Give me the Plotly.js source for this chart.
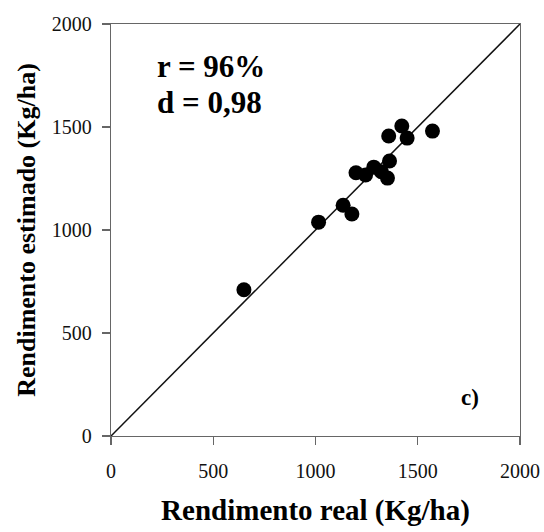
<!DOCTYPE html>
<html><head><meta charset="utf-8">
<script src="https://cdn.plot.ly/plotly-3.0.1.min.js"></script>
<style>body{margin:0;background:#fff}#c{width:544px;height:532px}</style>
</head><body><div id="c"></div>
<script>
const realYield = [650, 1015, 1135, 1178, 1198, 1245, 1285, 1322, 1352, 1358, 1362, 1422, 1448, 1572];
const estYield  = [710, 1038, 1120, 1078, 1278, 1267, 1305, 1283, 1252, 1456, 1335, 1505, 1446, 1480];
const lineRange = [0, 2000];
const tickVals = [0, 500, 1000, 1500, 2000];

const serif = "Liberation Serif, Times New Roman, serif";
const data = [
  {x: lineRange, y: lineRange, mode: 'lines', line: {color: '#111', width: 1.5}, hoverinfo: 'skip'},
  {x: realYield, y: estYield, mode: 'markers', marker: {color: '#000', size: 15, line: {width: 0}}}
];
const axisCommon = {
  range: [0, 2000], tickvals: tickVals, ticks: 'outside', ticklen: 8, tickwidth: 1.2, tickcolor: '#666',
  showline: true, linecolor: '#666', linewidth: 1.3, mirror: true, showgrid: false, zeroline: false,
  tickfont: {family: serif, size: 20, color: '#111'}
};
const layout = {
  width: 544, height: 532, showlegend: false,
  paper_bgcolor: '#fff', plot_bgcolor: '#fff',
  margin: {l: 111, r: 24, t: 24, b: 96},
  xaxis: Object.assign({}, axisCommon, {
    ticklabelstandoff: 9,
    title: {text: '<b>Rendimento real (Kg/ha)</b>', font: {family: serif, size: 29, color: '#000'}, standoff: 18}
  }),
  yaxis: Object.assign({}, axisCommon, {
    ticklabelstandoff: 6,
    title: {text: '<b>Rendimento estimado (Kg/ha)</b>', font: {family: serif, size: 26, color: '#000'}, standoff: 8}
  }),
  annotations: [
    {x: 155, y: 67, xref: 'paper', yref: 'paper', xanchor: 'left', yanchor: 'middle', showarrow: false,
     text: '<b>r = 96%</b>', font: {family: serif, size: 31, color: '#000'}},
    {x: 155, y: 102, xref: 'paper', yref: 'paper', xanchor: 'left', yanchor: 'middle', showarrow: false,
     text: '<b>d = 0,98</b>', font: {family: serif, size: 31, color: '#000'}},
    {x: 470, y: 397, xref: 'paper', yref: 'paper', xanchor: 'center', yanchor: 'middle', showarrow: false,
     text: '<b>c)</b>', font: {family: serif, size: 23, color: '#000'}}
  ]
};
// convert pixel positions of annotations to paper coords
const pw = 544 - 111 - 24, ph = 532 - 24 - 96;
layout.annotations.forEach(a => { a.x = (a.x - 111) / pw; a.y = 1 - (a.y - 24) / ph; });
Plotly.newPlot('c', data, layout, {displayModeBar: false, staticPlot: true});
</script></body></html>
